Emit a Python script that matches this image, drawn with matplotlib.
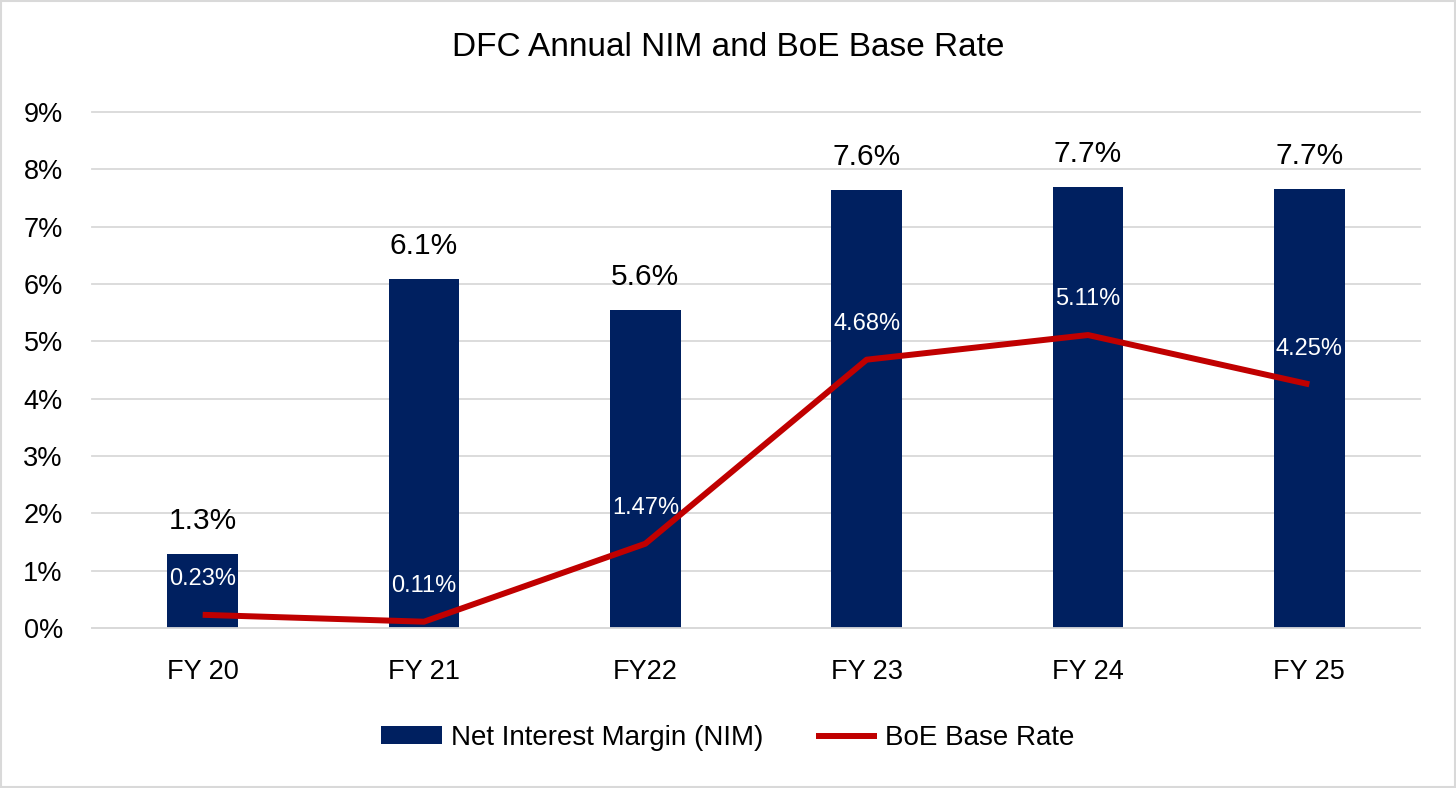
import matplotlib.pyplot as plt
import numpy as np

years = ["FY 20", "FY 21", "FY22", "FY 23", "FY 24", "FY 25"]
nim = [1.29, 6.08, 5.55, 7.64, 7.69, 7.65]
nim_labels = ["1.3%", "6.1%", "5.6%", "7.6%", "7.7%", "7.7%"]
boe_rate = [0.23, 0.11, 1.47, 4.68, 5.11, 4.25]
boe_labels = ["0.23%", "0.11%", "1.47%", "4.68%", "5.11%", "4.25%"]

BAR_COLOR = "#002060"
LINE_COLOR = "#C00000"

plt.rcParams["font.family"] = ["Liberation Sans", "DejaVu Sans"]

fig = plt.figure(figsize=(14.56, 7.88), dpi=100)
ax = fig.add_axes([92 / 1456, 1 - 628 / 788, (1420 - 92) / 1456, (628 - 112) / 788])

x = np.arange(len(years))
bar_h = ax.bar(x, nim, width=0.32, color=BAR_COLOR, label="Net Interest Margin (NIM)", zorder=2)
line_h, = ax.plot(x, boe_rate, color=LINE_COLOR, linewidth=4.3, label="BoE Base Rate", zorder=3,
                  solid_capstyle="butt")

for xi, v, lab in zip(x, nim, nim_labels):
    ax.text(xi, v + 0.44, lab, ha="center", va="baseline", fontsize=21.5, color="black")
for xi, v, lab in zip(x, boe_rate, boe_labels):
    ax.text(xi, v + 0.52, lab, ha="center", va="baseline", fontsize=17, color="white", zorder=4)

ax.set_xlim(-0.5, len(years) - 0.5)
ax.set_ylim(0, 9)
ax.set_yticks(range(0, 10))
ax.set_yticklabels([f"{i}%" for i in range(0, 10)], fontsize=19.5)
ax.set_xticks(x)
ax.set_xticklabels(years, fontsize=19.5)
ax.tick_params(axis="y", length=0, pad=21)
ax.tick_params(axis="x", length=0, pad=22)
ax.yaxis.grid(True, color="#D9D9D9", linewidth=1.3, zorder=0)
for gl in ax.get_ygridlines():
    gl.set_clip_on(False)
ax.set_axisbelow(True)
for side in ["top", "right", "left"]:
    ax.spines[side].set_visible(False)
ax.spines["bottom"].set_color("#D9D9D9")
ax.spines["bottom"].set_linewidth(1.3)

fig.text(0.5, 1 - 47 / 788, "DFC Annual NIM and BoE Base Rate", ha="center", va="center",
         fontsize=24)

fig.legend(handles=[bar_h, line_h], loc="center", bbox_to_anchor=(0.5, 1 - 738 / 788), ncol=2,
           frameon=False, fontsize=20, handlelength=2.2, handleheight=0.6,
           handletextpad=0.3, columnspacing=1.9)

fig.patches.append(plt.Rectangle((0.001, 0.001), 0.998, 0.998, transform=fig.transFigure,
                                 fill=False, edgecolor="#D9D9D9", linewidth=1.5))

fig.savefig("out.png", dpi=100)
